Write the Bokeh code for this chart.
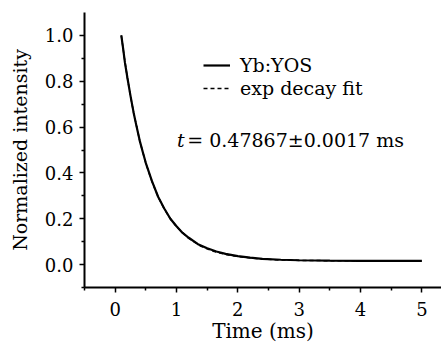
from bokeh.plotting import figure
from bokeh.models import Range1d, FixedTicker, Label, Legend, LegendItem, PrintfTickFormatter
from bokeh.embed import file_html
from bokeh.resources import INLINE

time_ms = [0.10, 0.13, 0.16, 0.20, 0.25, 0.30, 0.35, 0.40, 0.45, 0.50,
           0.60, 0.70, 0.80, 0.90, 1.00, 1.10, 1.20, 1.35, 1.50, 1.65,
           1.80, 2.00, 2.20, 2.40, 2.70, 3.00, 3.50, 4.00, 4.50, 5.00]
intensity = [1.000, 0.942, 0.880, 0.814, 0.736, 0.664, 0.601, 0.541, 0.491, 0.443,
             0.364, 0.296, 0.245, 0.200, 0.167, 0.138, 0.117, 0.089, 0.071, 0.057,
             0.047, 0.037, 0.030, 0.025, 0.021, 0.019, 0.017, 0.016, 0.016, 0.016]
# Exponential decay fit
fit_time = [0.10, 0.15, 0.20, 0.25, 0.30, 0.40, 0.50, 0.60, 0.70, 0.80,
            0.90, 1.00, 1.20, 1.40, 1.60, 1.80, 2.00, 2.30, 2.60, 3.00,
            3.50, 4.00, 4.50, 5.00]
fit_value = [1.000, 0.902, 0.814, 0.735, 0.664, 0.541, 0.442, 0.362, 0.296, 0.243,
             0.200, 0.165, 0.114, 0.080, 0.058, 0.044, 0.035, 0.026, 0.021, 0.018,
             0.017, 0.016, 0.016, 0.016]

x_major = [0, 1, 2, 3, 4, 5]
x_minor = [-0.5, 0.5, 1.5, 2.5, 3.5, 4.5]
y_major = [0.0, 0.2, 0.4, 0.6, 0.8, 1.0]
y_minor = [-0.1, 0.1, 0.3, 0.5, 0.7, 0.9]

series_name = "Yb:YOS"
fit_name = "exp decay fit"
x_title = "Time (ms)"
y_title = "Normalized intensity"
tau_symbol = "t"
tau_text = "= 0.47867\u00b10.0017 ms"

FONT = "DejaVu Serif"
QFONT = "'DejaVu Serif', serif"

p = figure(width=441, height=345, x_range=Range1d(-0.5, 5.32), y_range=Range1d(-0.1, 1.1),
           output_backend="svg", toolbar_location=None,
           min_border_left=84, min_border_right=0, min_border_top=12, min_border_bottom=58)
p.outline_line_color = None
p.xgrid.visible = False
p.ygrid.visible = False
p.background_fill_color = "white"
p.border_fill_color = "white"

r1 = p.line(time_ms, intensity, line_color="black", line_width=2.2)
r2 = p.line(fit_time, fit_value, line_color="black", line_width=1.5, line_dash="4 3")

for ax, maj, mnr in ((p.xaxis[0], x_major, x_minor), (p.yaxis[0], y_major, y_minor)):
    ax.ticker = FixedTicker(ticks=maj, minor_ticks=mnr)
    ax.axis_line_width = 2
    ax.axis_line_color = "black"
    ax.major_tick_line_width = 1.5
    ax.minor_tick_line_width = 1.5
    ax.major_tick_line_color = "black"
    ax.minor_tick_line_color = "black"
    ax.major_tick_in = 0
    ax.major_tick_out = 5
    ax.minor_tick_in = 0
    ax.minor_tick_out = 3
    ax.major_label_text_font = QFONT
    ax.major_label_text_font_size = "18px"
    ax.major_label_text_color = "black"
    ax.axis_label_text_font = FONT
    ax.axis_label_text_font_style = "normal"
    ax.axis_label_text_color = "black"

p.xaxis[0].major_label_standoff = 9
p.yaxis[0].major_label_standoff = 6
p.xaxis[0].formatter.use_scientific = False
p.yaxis[0].formatter = PrintfTickFormatter(format="%.1f")

p.xaxis[0].axis_label = x_title
p.xaxis[0].axis_label_text_font_size = "20px"
p.xaxis[0].axis_label_standoff = 0
p.yaxis[0].axis_label = y_title
p.yaxis[0].axis_label_text_font_size = "19px"
p.yaxis[0].axis_label_standoff = 11

p.add_layout(Label(x=1.01, y=0.545, text=tau_symbol, text_font=QFONT, text_font_size="19px",
                   text_font_style="italic", text_align="left", text_baseline="middle",
                   text_color="black"))
p.add_layout(Label(x=1.175, y=0.545, text=tau_text, text_font=QFONT, text_font_size="19px",
                   text_align="left", text_baseline="middle", text_color="black"))

legend = Legend(items=[LegendItem(label=series_name, renderers=[r1]),
                       LegendItem(label=fit_name, renderers=[r2])],
                location=(119, 188), label_text_font=FONT, label_text_font_size="19px",
                label_text_color="black",
                glyph_width=27, glyph_height=20, label_height=20, label_standoff=10,
                spacing=1, padding=0, margin=0, border_line_color=None,
                background_fill_alpha=0)
p.add_layout(legend)

open("out.html", "w").write(file_html(p, INLINE))
